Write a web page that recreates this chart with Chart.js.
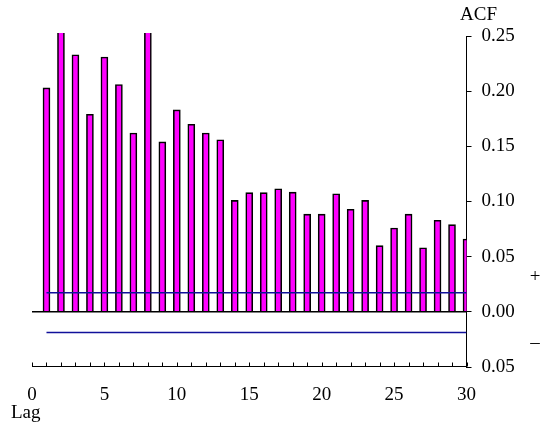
<!DOCTYPE html>
<html>
<head>
<meta charset="utf-8">
<script src="https://cdn.jsdelivr.net/npm/chart.js@4/dist/chart.umd.min.js"></script>
<style>
  html, body { margin: 0; padding: 0; background: #fff; }
  #wrap { position: relative; width: 540px; height: 425px; }
</style>
</head>
<body>
<div id="wrap"><canvas id="acf-chart"></canvas></div>
<script>
// lags and autocorrelations (lags 2 and 8 run past the top)
const lags = [1,2,3,4,5,6,7,8,9,10,11,12,13,14,15,16,17,18,19,20,21,22,23,24,25,26,27,28,29,30];
const acf = [0.203,0.26,0.233,0.179,0.231,0.206,0.162,0.26,0.154,0.183,
             0.170,0.162,0.156,0.101,0.108,0.108,0.1115,0.1085,0.0885,0.0885,
             0.107,0.093,0.101,0.060,0.076,0.0885,0.058,0.083,0.079,0.066];
// confidence bands
const bandUpper = 0.0173;
const bandLower = -0.0187;
const xTicks = [0, 5, 10, 15, 20, 25, 30];
const yTicks = [-0.05, 0, 0.05, 0.10, 0.15, 0.20, 0.25];

const serif = "'Liberation Serif', 'Times New Roman', serif";

// bottom axis line with small ticks pointing up, one per lag
const lagAxis = {
  id: 'lagAxis',
  afterDraw(chart) {
    const { ctx, chartArea, scales: { x } } = chart;
    const yb = Math.round(chartArea.bottom) - 0.5;
    ctx.save();
    ctx.strokeStyle = '#000';
    ctx.lineWidth = 1;
    ctx.beginPath();
    ctx.moveTo(chartArea.left, yb);
    ctx.lineTo(chartArea.right, yb);
    ctx.stroke();
    for (let i = x.min; i <= x.max; i++) {
      const px = Math.round(x.getPixelForValue(i)) + 0.5;
      ctx.beginPath();
      ctx.moveTo(px, yb);
      ctx.lineTo(px, yb - 4);
      ctx.stroke();
    }
    ctx.restore();
  }
};

const extraText = {
  id: 'extraText',
  afterDraw(chart) {
    const { ctx, chartArea, scales: { y } } = chart;
    ctx.save();
    ctx.fillStyle = '#000';
    ctx.font = '19px ' + serif;
    ctx.textBaseline = 'middle';
    ctx.textAlign = 'center';
    ctx.fillText('ACF', chartArea.right + 12, chartArea.top - 21);
    ctx.fillText('+', 535, y.getPixelForValue(0.032));
    ctx.fillText('\u2013', 535, y.getPixelForValue(-0.028));
    ctx.textAlign = 'left';
    ctx.fillText('Lag', 11, 413);
    ctx.restore();
  }
};

new Chart(document.getElementById('acf-chart').getContext('2d'), {
  type: 'bar',
  data: {
    datasets: [
      {
        type: 'line',
        data: [{ x: 0, y: 0 }, { x: 30, y: 0 }],
        borderColor: '#000',
        borderWidth: 1.5,
        pointRadius: 0,
        order: 1
      },
      {
        type: 'line',
        data: [{ x: lags[0], y: bandUpper }, { x: lags[lags.length - 1], y: bandUpper }],
        borderColor: '#10109a',
        borderWidth: 1.5,
        pointRadius: 0,
        order: 1
      },
      {
        type: 'line',
        data: [{ x: lags[0], y: bandLower }, { x: lags[lags.length - 1], y: bandLower }],
        borderColor: '#10109a',
        borderWidth: 1.5,
        pointRadius: 0,
        order: 1
      },
      {
        label: 'ACF',
        data: lags.map((l, i) => ({ x: l, y: acf[i] })),
        backgroundColor: '#ff00ff',
        borderColor: '#000',
        borderWidth: 1.6,
        barThickness: 7,
        clip: { left: 0, top: 3, right: 0, bottom: 0 },
        order: 2
      }
    ]
  },
  options: {
    responsive: true,
    maintainAspectRatio: false,
    animation: false,
    layout: { padding: { left: 32, top: 36, right: 0, bottom: 0 } },
    plugins: { legend: { display: false }, tooltip: { enabled: false } },
    scales: {
      x: {
        type: 'linear',
        min: 0,
        max: 30,
        offset: false,
        afterBuildTicks: (s) => { s.ticks = xTicks.map(v => ({ value: v })); },
        afterFit: (s) => { s.height = 58; },
        grid: { display: false },
        border: { display: false },
        ticks: { color: '#000', padding: 9, maxRotation: 0, font: { family: serif, size: 19 } }
      },
      y: {
        position: 'right',
        min: -0.05,
        max: 0.25,
        afterBuildTicks: (s) => { s.ticks = yTicks.map(v => ({ value: v })); },
        afterFit: (s) => { s.width = 73.5; },
        grid: { drawOnChartArea: false, tickLength: 5, color: '#000' },
        border: { display: true, color: '#000', width: 1 },
        ticks: {
          color: '#000',
          padding: 10,
          font: { family: serif, size: 19 },
          callback: (v) => Math.abs(v).toFixed(2)
        }
      }
    }
  },
  plugins: [lagAxis, extraText]
});
</script>
</body>
</html>
